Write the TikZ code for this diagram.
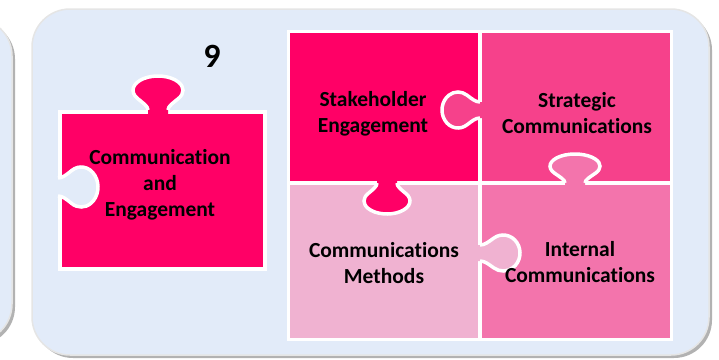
\documentclass[tikz,border=0pt]{standalone}
\usepackage{fontspec}
\setmainfont{Carlito}[Ligatures=NoCommon]
\definecolor{panelbg}{RGB}{226,235,249}
\definecolor{hotpink}{RGB}{255,0,102}
\definecolor{rosepink}{RGB}{246,65,139}
\definecolor{palepink}{RGB}{240,178,209}
\definecolor{midpink}{RGB}{243,116,172}
\tikzset{
  panel/.style={fill=panelbg, draw=white!80!gray, line width=1.5pt, rounded corners=38pt},
  panelshadow/.style={fill=gray!60, rounded corners=38pt},
  tabedge/.style={draw=white, line width=3.5pt},
  piecetext/.style={font=\bfseries\fontsize{21.5}{26}\selectfont, align=center, text=black}
}
% #1 seam point, #2 angle, #3 depth, #4 half width of head, #5 half neck, #6 colour
\newcommand{\knob}[6]{%
\begin{scope}[shift={#1},rotate=#2]
\pgfmathsetmacro{\rx}{0.42*#3}
\pgfmathsetmacro{\cx}{#3-\rx}
\pgfmathsetmacro{\sx}{\cx-0.5736*\rx}
\pgfmathsetmacro{\sy}{0.8192*#4}
\pgfmathsetmacro{\ax}{\sx-0.3*\rx}
\pgfmathsetmacro{\ay}{\sy-0.2*#4}
\pgfmathsetmacro{\bx}{0.35*\sx}
\fill[#6] (-5,-#5) -- (0,-#5) .. controls (\bx,-#5) and (\ax,-\ay) .. (\sx,-\sy)
  arc[start angle=-125,end angle=125,x radius=\rx,y radius=#4]
  .. controls (\ax,\ay) and (\bx,#5) .. (0,#5) -- (-5,#5) -- cycle;
\draw[tabedge] (0,-#5) .. controls (\bx,-#5) and (\ax,-\ay) .. (\sx,-\sy)
  arc[start angle=-125,end angle=125,x radius=\rx,y radius=#4]
  .. controls (\ax,\ay) and (\bx,#5) .. (0,#5);
\end{scope}}
\begin{document}
\begin{tikzpicture}[x=1pt,y=-1pt]
\useasboundingbox (0,0) rectangle (719,359);
\clip (0,0) rectangle (719,359);
% panels
\fill[panelshadow] (-58,21) rectangle (15,345);
\draw[panel] (-60,18) rectangle (12,342);
\fill[panelshadow] (35,12) rectangle (712,358);
\draw[panel] (32,9) rectangle (709,355);
\node[font=\bfseries\fontsize{34}{40}\selectfont] (step9) at (212,56) {9};
% single piece
\draw[fill=hotpink, draw=white, line width=3.5pt] (60,112) rectangle (265,269);
% grid of four pieces
\fill[white] (287,30) rectangle (673,341);
\foreach \col/\xa/\ya/\xb/\yb in {hotpink/290/33/478/181, rosepink/482/33/670/181,
  palepink/290/185/478/338, midpink/482/185/670/338}
  \fill[\col] (\xa,\ya) rectangle (\xb,\yb);
% tabs and notch
\knob{(158,110)}{90}{34}{25}{10}{hotpink}
\knob{(58,187)}{0}{40}{20}{9}{panelbg}
\knob{(480,110)}{180}{38}{18}{8}{rosepink}
\knob{(387,183)}{-90}{31}{23}{10}{hotpink}
\knob{(575,183)}{90}{29}{25}{10}{midpink}
\knob{(480,253)}{0}{40}{18}{8}{palepink}
% labels
\node[piecetext] (comeng) at (160,185) {Communication\\and\\Engagement};
\node[piecetext] (stake) at (373,114) {Stakeholder\\Engagement};
\node[piecetext] (strat) at (577,113) {Strategic\\Communications};
\node[piecetext] (methods) at (384,263) {Communications\\Methods};
\node[piecetext] (internal) at (580,262) {Internal\\Communications};
\end{tikzpicture}
\end{document}
